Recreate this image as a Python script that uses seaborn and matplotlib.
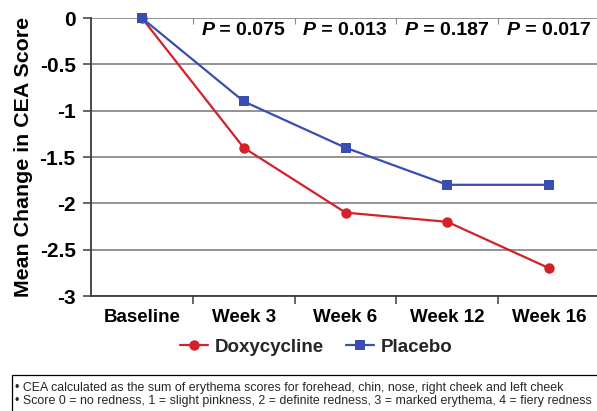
import matplotlib
matplotlib.use("Agg")
import matplotlib.pyplot as plt
from matplotlib.patches import Rectangle
import seaborn as sns
import pandas as pd

# ---- data ----
timepoints = ["Baseline", "Week 3", "Week 6", "Week 12", "Week 16"]
doxycycline = [0, -1.4, -2.1, -2.2, -2.7]
placebo = [0, -0.9, -1.4, -1.8, -1.8]
p_values = ["0.075", "0.013", "0.187", "0.017"]
y_ticks = [0, -0.5, -1, -1.5, -2, -2.5, -3]
y_tick_labels = ["0", "-0.5", "-1", "-1.5", "-2", "-2.5", "-3"]
footnotes = [
    "\u2022 CEA calculated as the sum of erythema scores for forehead, chin, nose, right cheek and left cheek",
    "\u2022 Score 0 = no redness, 1 = slight pinkness, 2 = definite redness, 3 = marked erythema, 4 = fiery redness",
]

df = pd.concat([
    pd.DataFrame({"pos": range(len(timepoints)), "value": doxycycline, "Treatment": "Doxycycline"}),
    pd.DataFrame({"pos": range(len(timepoints)), "value": placebo, "Treatment": "Placebo"}),
])

sns.set_theme(style="white")
plt.rcParams["font.family"] = ["Liberation Sans", "DejaVu Sans"]

RED = "#d42029"
BLUE = "#3a4db0"
GRID = "#8a8a8a"
SPINE = "#3c3c3c"

fig = plt.figure(figsize=(5.97, 4.11), dpi=100)
ax = fig.add_axes([91 / 597, 1 - 296 / 411, 506 / 597, 278 / 411])

sns.lineplot(
    data=df, x="pos", y="value", hue="Treatment", style="Treatment",
    hue_order=["Doxycycline", "Placebo"], style_order=["Doxycycline", "Placebo"],
    palette={"Doxycycline": RED, "Placebo": BLUE},
    markers={"Doxycycline": "o", "Placebo": "s"}, dashes=False,
    markersize=7.5, linewidth=1.6, markeredgewidth=0, clip_on=False, ax=ax,
)

ax.set_xlim(-0.5, 4.47)
ax.set_ylim(-3, 0)

# grid
ax.set_yticks(y_ticks)
ax.set_yticklabels(y_tick_labels, fontsize=15, fontweight="bold")
ax.yaxis.grid(True, color=GRID, linewidth=1.3)
ax.xaxis.grid(False)
ax.set_axisbelow(True)

# x ticks: boundaries as major ticks, labels at category centers
ax.set_xticks([0.5, 1.5, 2.5, 3.5])
ax.set_xticklabels([])
ax.set_xticks(range(len(timepoints)), minor=True)
ax.set_xticklabels(timepoints, minor=True, fontsize=13.5, fontweight="bold")
ax.tick_params(axis="x", which="major", direction="out", length=6, width=1.1,
               color=SPINE, bottom=True)
ax.tick_params(axis="x", which="minor", length=0, pad=9)
ax.tick_params(axis="y", direction="out", length=6, width=1.1, color=SPINE,
               left=True, pad=5)
for lab in ax.get_xticklabels(minor=True) + ax.get_yticklabels():
    lab.set_color("black")

for s in ["top", "right"]:
    ax.spines[s].set_visible(False)
for s in ["left", "bottom"]:
    ax.spines[s].set_color(SPINE)
    ax.spines[s].set_linewidth(1.3)

# small ticks at top boundaries
ax.vlines([0.5, 1.5, 2.5, 3.5], -0.065, 0, color=GRID, linewidth=0.8)

# P-values
for i, p in enumerate(p_values, start=1):
    ax.text(i - 0.29, -0.14, "P", ha="right", va="center", fontsize=14,
            fontweight="bold", fontstyle="italic", color="black")
    ax.text(i - 0.29, -0.14, " = " + p, ha="left", va="center", fontsize=14,
            fontweight="bold", color="black")

ax.set_xlabel("")
ax.set_ylabel("Mean Change in CEA Score", fontsize=15.4, fontweight="bold", color="black")
ax.yaxis.set_label_coords(-0.115, 0.5)

# legend
handles, labels = ax.get_legend_handles_labels()
if ax.get_legend() is not None:
    ax.get_legend().remove()
fig.legend(handles, labels, loc="center", bbox_to_anchor=(0.53, 0.155),
           bbox_transform=fig.transFigure, ncol=2, frameon=False,
           prop={"size": 13.5, "weight": "bold"}, handlelength=1.5,
           handletextpad=0.35, columnspacing=1.2, borderaxespad=0)

# footnote box
fig.patches.append(Rectangle((12 / 597, -0.05), 1.0, 0.05 + (411 - 375) / 411,
                             transform=fig.transFigure, fill=False,
                             edgecolor="black", linewidth=0.9))
fig.text(15 / 597, 1 - 388 / 411, footnotes[0], fontsize=8.9, va="center", ha="left")
fig.text(15 / 597, 1 - 401 / 411, footnotes[1], fontsize=8.9, va="center", ha="left")

fig.savefig("out.png", dpi=100)
